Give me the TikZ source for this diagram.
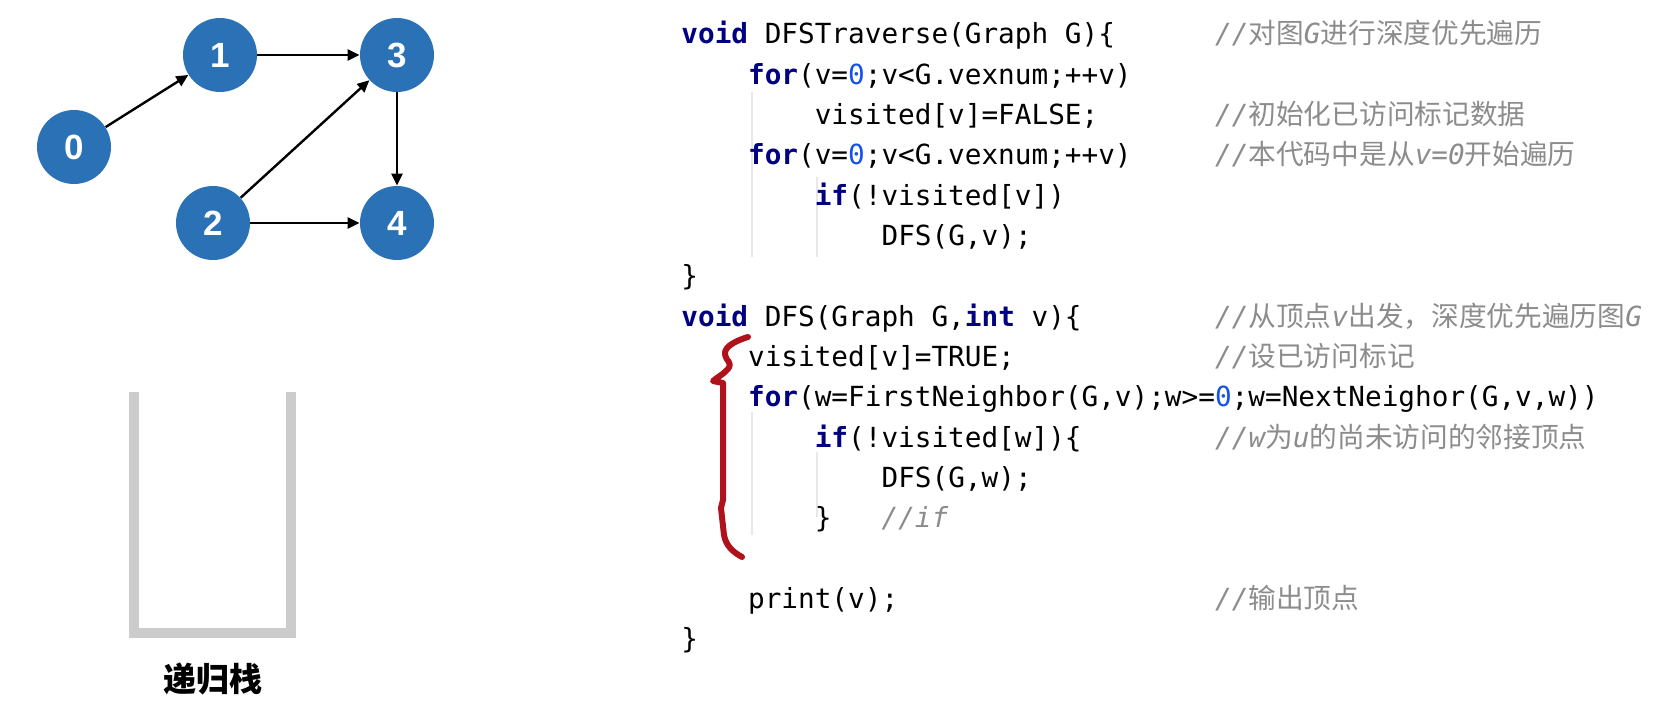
\documentclass[tikz,border=0pt]{standalone}
\usepackage{fontspec}
\setmonofont{DejaVu Sans Mono}
\newfontfamily\cjk{Noto Sans CJK SC}
\newfontfamily\gfont{Liberation Sans}
\usetikzlibrary{arrows.meta}
\definecolor{nodeblue}{RGB}{42,114,181}
\definecolor{kwc}{RGB}{0,0,128}
\definecolor{numc}{RGB}{23,80,235}
\definecolor{cmc}{RGB}{140,140,140}
\definecolor{bracered}{RGB}{176,18,27}
\definecolor{stackgray}{RGB}{204,204,204}
\definecolor{guidec}{RGB}{232,232,232}
\newcommand\kw[1]{{\bfseries\color{kwc}#1}}
\newcommand\nm[1]{{\color{numc}#1}}
\newcommand\zh[1]{{\cjk\upshape #1}}
\tikzset{
  gnode/.style={circle, fill=nodeblue, minimum size=37pt, inner sep=0pt, text=white,
    font=\gfont\bfseries\fontsize{17.5}{17.5}\selectfont},
  garrow/.style={line width=1.2pt, -{Triangle[length=6pt,width=5.5pt]}},
  code/.style={anchor=base west, inner sep=0pt, font=\ttfamily\fontsize{13.85}{16}\selectfont, text=black},
  cmt/.style={code, text=cmc, font=\ttfamily\itshape\fontsize{13.85}{16}\selectfont},
  guide/.style={guidec, line width=0.8pt},
  stackbar/.style={fill=stackgray},
  brace/.style={bracered, line width=3pt, line cap=round, line join=round}
}
\begin{document}
\begin{tikzpicture}[x=0.5pt,y=-0.5pt]
\useasboundingbox (0,0) rectangle (1656,716);

% graph
\node[gnode] (n0) at (74,147) {0};
\node[gnode] (n1) at (220,55) {1};
\node[gnode] (n3) at (397,55) {3};
\node[gnode] (n2) at (213,223) {2};
\node[gnode] (n4) at (397,223) {4};
\draw[garrow] (n0) -- (n1);
\draw[garrow] (n1) -- (n3);
\draw[garrow] (n2) -- (n3);
\draw[garrow] (n3) -- (n4);
\draw[garrow] (n2) -- (n4);

% stack
\fill[stackbar] (129,392) rectangle (139,638);
\fill[stackbar] (286,392) rectangle (296,638);
\fill[stackbar] (139,628) rectangle (286,638);
\node[font=\cjk\bfseries\fontsize{16.5}{18}\selectfont] (lbl) at (213,679) {递归栈};

% indentation guides
\draw[guide] (752,92) -- (752,257);
\draw[guide] (817,177) -- (817,257);
\draw[guide] (752,412) -- (752,535);
\draw[guide] (817,452) -- (817,517);

% code
\node[code] (l0) at (681,44) {\kw{void} DFSTraverse(Graph G)\{};
\node[code] (l1) at (747.7,84.3) {\kw{for}(v=\nm{0};v<G.vexnum;++v)};
\node[code] (l2) at (814.4,124.7) {visited[v]=FALSE;};
\node[code] (l3) at (747.7,165) {\kw{for}(v=\nm{0};v<G.vexnum;++v)};
\node[code] (l4) at (814.4,205.3) {\kw{if}(!visited[v])};
\node[code] (l5) at (881.2,245.7) {DFS(G,v);};
\node[code] (l6) at (681,286) {\}};
\node[code] (l7) at (681,326.3) {\kw{void} DFS(Graph G,\kw{int} v)\{};
\node[code] (l8) at (747.7,366.6) {visited[v]=TRUE;};
\node[code] (l9) at (747.7,407) {\kw{for}(w=FirstNeighbor(G,v);w>=\nm{0};w=NextNeighor(G,v,w))};
\node[code] (l10) at (814.4,447.3) {\kw{if}(!visited[w])\{};
\node[code] (l11) at (881.2,487.6) {DFS(G,w);};
\node[code] (l12) at (814.4,528) {\}};
\node[cmt] (c12) at (881.2,528) {//if};
\node[code] (l14) at (747.7,608.6) {print(v);};
\node[code] (l15) at (681,649) {\}};

% comments
\node[cmt] (c0) at (1214.8,44) {//\zh{对图}G\zh{进行深度优先遍历}};
\node[cmt] (c2) at (1214.8,124.7) {//\zh{初始化已访问标记数据}};
\node[cmt] (c3) at (1214.8,165) {//\zh{本代码中是从}v=0\zh{开始遍历}};
\node[cmt] (c7) at (1214.8,326.3) {//\zh{从顶点}v\zh{出发，深度优先遍历图}G};
\node[cmt] (c8) at (1214.8,366.6) {//\zh{设已访问标记}};
\node[cmt] (c10) at (1214.8,447.3) {//w\zh{为}u\zh{的尚未访问的邻接顶点}};
\node[cmt] (c14) at (1214.8,608.6) {//\zh{输出顶点}};

% red hand-drawn brace
\draw[brace] (748,337) .. controls (738,340) and (724,346) .. (725,354)
  .. controls (726,362) and (733,362) .. (728,369)
  .. controls (724,374) and (716,378) .. (713,381)
  -- (723,383) -- (723,500) -- (721,508) -- (724,535)
  .. controls (726,546) and (733,552) .. (742,557);
\end{tikzpicture}
\end{document}
